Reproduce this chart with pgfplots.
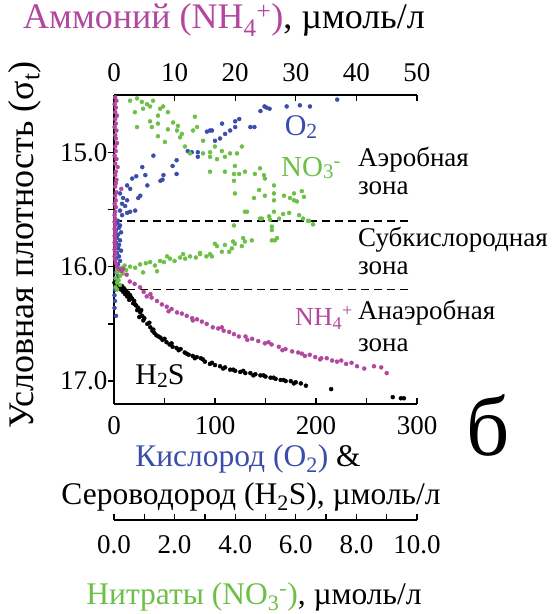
\documentclass[border=0pt]{standalone}
\usepackage{fontspec}
\setmainfont{Liberation Serif}
\usepackage{pgfplots}
\pgfplotsset{compat=1.18}
\definecolor{OBlue}{HTML}{3A4DAA}
\definecolor{NGreen}{HTML}{6CBF47}
\definecolor{AMag}{HTML}{B2479E}
% small index sitting near the baseline, as in the plot labels
\newcommand{\bsub}[1]{\raisebox{-0.08em}{\scalebox{0.72}{#1}}}
\pgfplotsset{
  base/.style={scale only axis,width=303pt,height=309pt,
    at={(114pt,210pt)},anchor=south west,
    ymin=14.5,ymax=17.2,y dir=reverse,clip=false,
    tick label style={font=\fontsize{27}{27}\selectfont},
    /pgf/number format/assume math mode=true,
    axis line style={-,line width=1.6pt},
    major tick length=6pt,minor tick length=6pt,
    tick style={line width=1.3pt,black},tick align=inside},
  dots/.style={only marks,mark=*,mark size=2pt},
}
\begin{document}
\begin{tikzpicture}[x=1pt,y=1pt]
\path[use as bounding box] (0,0) rectangle (552,614);

% O2 and H2S, bottom axis
\begin{axis}[base,xmin=0,xmax=300,
  axis x line*=bottom,axis y line*=left,
  xtick={0,100,200,300},minor xtick={50,150,250},
  ytick={15,16,17},minor ytick={15.5,16.5},
  y tick style={xshift=-6pt},
  xticklabel style={yshift=-9pt},
  yticklabel style={xshift=-3pt,/pgf/number format/.cd,fixed,fixed zerofill,precision=1}]
\addplot[dots,color=OBlue] coordinates {
(221,14.54) (184,14.59) (194,14.60) (171,14.60) (149,14.60) (151,14.61) (154,14.62)
(145,14.64) (124,14.71) (120,14.73) (107,14.75) (120,14.78) (135,14.78) (139,14.78)
(97,14.81) (115,14.81) (92,14.82) (95,14.81) (110,14.84) (105,14.88) (100,14.90)
(73,14.99) (77,15.00) (83,15.00) (83,15.04) (39,15.03) (62,15.07) (58,15.12)
(28,15.13) (62,15.19) (49,15.20) (31,15.20) (22,15.21) (18,15.23) (48,15.24)
(46,15.25) (33,15.29) (13,15.29) (16,15.32) (6,15.36) (26,15.38) (24,15.40)
(9,15.40) (13,15.42) (8,15.45) (11,15.47) (6,15.51) (16,15.52) (21,15.51)
(13,15.53) (8,15.55) (4,15.60) (6,15.64)
(3,15.62) (5,15.66) (2,15.68) (7,15.70) (4,15.72) (3,15.75) (6,15.77) (2,15.79)
(5,15.81) (4,15.84) (7,15.86) (3,15.88) (5,15.91) (2,15.93) (6,15.95) (4,15.98)
(3,16.00) (5,16.02) (2,16.05) (4,16.08) (3,16.10) (1,16.13) (2,16.16) (1,16.20)
(0.5,16.25) (1,16.30) (0.5,16.36) (2,16.43)
};
\addplot[dots,color=black] coordinates {
(0.5,16.14) (2,16.15) (4,16.16) (6,16.17) (8,16.17) (10,16.19) (3,16.19) (7,16.20)
(12,16.21) (9,16.22) (14,16.23) (11,16.24) (16,16.25) (13,16.26) (18,16.28)
(15,16.29) (20,16.30) (19,16.32) (22,16.34) (24,16.36) (23,16.38) (26,16.40)
(28,16.43) (30,16.45) (29,16.47) (33,16.50) (36,16.53) (38,16.56) (40,16.58)
(42,16.60) (46,16.62) (48,16.64) (52,16.66) (55,16.68) (58,16.70) (62,16.71)
(66,16.72) (70,16.75) (74,16.77) (78,16.78) (82,16.79) (86,16.80) (90,16.83)
(95,16.85) (100,16.86) (105,16.87) (110,16.88) (115,16.90) (120,16.91) (125,16.92)
(130,16.93) (135,16.93) (140,16.94) (145,16.95) (150,16.96) (155,16.97) (160,16.98)
(165,16.99) (170,17.00) (175,17.00) (180,17.01) (185,17.02) (190,17.04)
(215,17.07) (276,17.14) (284,17.15) (287,17.15)
(5,16.18) (17,16.27) (21,16.33) (27,16.38) (25,16.44) (35,16.49) (39,16.55)
(44,16.61) (50,16.63) (57,16.67) (64,16.73) (72,16.76) (80,16.80) (88,16.81)
(97,16.84) (108,16.89) (118,16.90) (128,16.91) (138,16.95) (148,16.95)
(158,16.97) (168,16.99) (178,17.02)
};
\addplot[black,line width=1.8pt,dash pattern=on 8pt off 5pt] coordinates {(0,15.6) (292,15.6)};
\addplot[black,line width=1.8pt,dash pattern=on 8pt off 5pt] coordinates {(0,16.2) (292,16.2)};
\end{axis}

% NO3, separate axis below
\begin{axis}[base,xmin=0,xmax=10,
  axis x line*=bottom,axis x line shift=116pt,hide y axis,
  xtick={0,2,...,10},minor xtick={1,3,5,7,9},
  xticklabel style={yshift=-12pt,/pgf/number format/.cd,fixed,fixed zerofill,precision=1}]
\addplot[dots,color=NGreen] coordinates {
(0.53,14.55) (0.76,14.53) (0.92,14.56) (1.09,14.58) (1.19,14.60) (0.96,14.62)
(0.69,14.65) (1.29,14.55) (1.52,14.62) (1.62,14.60) (1.78,14.65) (1.45,14.68)
(1.19,14.73) (0.76,14.78) (1.25,14.78) (1.45,14.75) (1.78,14.80) (1.95,14.74)
(2.11,14.77) (2.08,14.81) (2.24,14.84) (1.45,14.86) (2.18,14.87) (2.67,14.69)
(2.74,14.78) (2.61,14.81) (1.68,14.91) (2.34,14.95) (2.94,14.90) (2.51,15.01)
(2.94,15.01) (3.17,15.00) (3.17,15.04) (3.17,15.17) (3.33,14.95) (3.56,14.99)
(3.83,15.01) (3.66,15.04) (4.06,15.01) (4.22,14.95) (3.40,15.06) (3.99,15.12)
(3.66,15.17) (3.96,15.19) (4.13,15.19) (4.32,15.17) (4.65,15.19) (4.82,15.14)
(4.95,15.20) (4.98,15.23) (3.96,15.25) (5.28,15.29) (3.99,15.36) (4.79,15.33)
(4.98,15.38) (5.28,15.36) (5.61,15.38) (5.94,15.36) (6.20,15.34) (6.27,15.39)
(5.94,15.42) (4.62,15.40) (5.28,15.42) (4.88,15.58) (5.12,15.56) (5.45,15.58)
(5.78,15.53) (6.11,15.55) (4.32,15.52) (5.28,15.52) (3.96,15.64) (5.21,15.65)
(5.21,15.68) (5.31,15.77) (6.44,15.60) (5.81,15.40) (6.04,15.43) (5.58,15.54)
(6.24,15.58) (6.40,15.60) (6.57,15.63) (4.39,15.52) (4.82,15.58) (5.15,15.59)
(0.10,16.02) (0.53,16.00) (0.86,15.98) (1.19,15.96) (1.52,15.95) (1.85,15.93)
(2.18,15.92) (2.51,15.91) (2.84,15.89) (3.17,15.89) (3.23,15.91) (3.56,15.87)
(3.80,15.87) (3.33,15.80) (3.66,15.81) (3.99,15.80) (4.32,15.78) (4.55,15.77)
(3.89,15.84) (4.22,15.82) (5.21,15.77) (5.38,15.75) (0.96,16.05) (1.42,16.04)
(1.75,15.91) (2.28,15.89) (2.84,15.88) (3.40,15.82) (3.93,15.78) (4.26,15.75)
(0.35,15.99) (0.70,16.01) (1.05,15.97) (1.35,15.99) (1.65,15.96) (2.00,15.95)
(2.35,15.93) (2.70,15.92) (3.05,15.91)
(0.10,16.05) (0.20,16.08) (0.05,16.10) (0.15,16.12) (0.10,16.14) (0.20,16.16)
(0.05,16.18) (0.10,16.20) (0.30,16.06) (0.40,16.03) (0.25,16.01)
};
\end{axis}

% NH4, top axis
\begin{axis}[base,xmin=0,xmax=50,
  axis x line*=top,hide y axis,
  xtick={0,10,...,50},xticklabel style={yshift=10pt}]
\addplot[dots,color=AMag] coordinates {
(0.2,14.52) (0.4,14.55) (0.1,14.58) (0.3,14.61) (0.2,14.65) (0.5,14.68) (0.2,14.71)
(0.3,14.75) (0.1,14.78) (0.4,14.81) (0.2,14.85) (0.3,14.88) (0.5,14.92) (0.2,14.95)
(0.3,14.99) (0.1,15.03) (0.4,15.06) (0.2,15.10) (0.6,15.13) (0.3,15.17) (0.2,15.20)
(0.4,15.24) (0.3,15.27) (1.2,15.32) (0.2,15.30) (0.4,15.35) (0.2,15.38) (0.3,15.42)
(0.1,15.45) (0.3,15.48) (0.2,15.52) (0.1,15.55) (0.2,15.58) (0.1,15.61) (0.2,15.64)
(0.1,15.67) (0.2,15.70) (0.1,15.73) (0.2,15.76) (0.1,15.79) (0.2,15.82) (0.1,15.85)
(0.2,15.88) (0.1,15.91) (0.2,15.94) (0.3,15.97) (0.5,16.00) (0.8,16.02) (1.2,16.04)
(1.5,16.02) (2.1,16.07) (2.6,16.13) (3.4,16.15) (4.3,16.18) (4.9,16.22) (5.4,16.26)
(6.2,16.27) (7.1,16.30) (7.9,16.33) (8.7,16.35) (9.5,16.37) (10.4,16.40) (11.2,16.41)
(12.0,16.43) (12.9,16.45) (13.7,16.46) (14.5,16.48) (15.3,16.50) (16.3,16.53)
(17.2,16.54) (18.1,16.56) (19.0,16.57) (19.8,16.59) (20.6,16.61) (21.7,16.61)
(22.8,16.63) (23.8,16.65) (24.9,16.67) (26.0,16.68) (27.2,16.70) (28.3,16.72)
(29.4,16.74) (30.4,16.75) (31.5,16.78) (32.3,16.77) (33.2,16.79) (34.2,16.80)
(35.1,16.80) (36.0,16.82) (36.8,16.83) (38.3,16.85) (39.2,16.84) (40.1,16.87)
(41.3,16.89) (42.9,16.87) (44.1,16.88) (45.0,16.93)
(6.0,16.24) (9.0,16.39) (13.0,16.47) (17.8,16.53) (22.0,16.64) (25.5,16.66)
(27.8,16.73) (31.0,16.76) (34.0,16.81) (37.5,16.82)
};
\end{axis}

% titles and annotations, positions in picture units
\node[font=\fontsize{36}{36}\selectfont] at (224,594)
  {{\color{AMag}Аммоний (NH\textsubscript{4}\textsuperscript{+})}, µмоль/л};
\node[font=\fontsize{36}{36}\selectfont,rotate=90] at (25,369)
  {Условная плотность (σ\textsubscript{t})};
\node[font=\fontsize{31.5}{31.5}\selectfont] at (248,155)
  {{\color{OBlue}Кислород (O\textsubscript{2})} \&};
\node[font=\fontsize{31.5}{31.5}\selectfont] at (251,117)
  {Сероводород (H\textsubscript{2}S), µмоль/л};
\node[font=\fontsize{31.5}{31.5}\selectfont] at (254,17)
  {{\color{NGreen}Нитраты (NO\textsubscript{3}\textsuperscript{-})}, µмоль/л};
\node[font=\fontsize{85}{85}\selectfont] at (488,189) {б};
\node[font=\fontsize{30}{30}\selectfont,text=OBlue] at (301,487) {O\bsub{2}};
\node[font=\fontsize{29}{29}\selectfont,text=NGreen] at (311,446) {NO\bsub{3}\textsuperscript{-}};
\node[font=\fontsize{26}{26}\selectfont,text=AMag] at (324,296) {NH\textsubscript{4}\textsuperscript{+}};
\node[font=\fontsize{30}{30}\selectfont] at (160,238) {H\bsub{2}S};
\begin{scope}[every node/.style={font=\fontsize{27}{27}\selectfont,anchor=west,inner sep=0pt}]
\node at (358,454) {Аэробная};
\node at (358,426) {зона};
\node at (358,374) {Субкислородная};
\node at (358,346) {зона};
\node at (358,301) {Анаэробная};
\node at (358,269) {зона};
\end{scope}
\end{tikzpicture}
\end{document}
